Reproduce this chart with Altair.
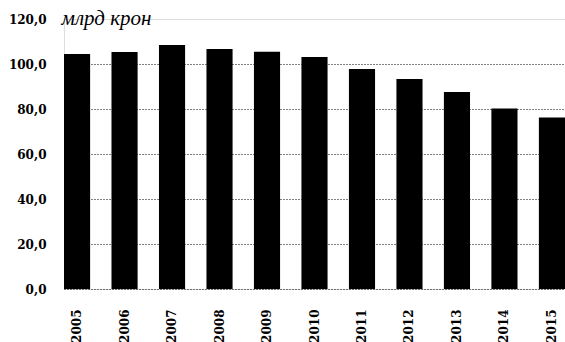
import altair as alt
import pandas as pd

# Annual values, billions of crowns
years = ["2005", "2006", "2007", "2008", "2009", "2010",
         "2011", "2012", "2013", "2014", "2015"]
values = [104.5, 105.3, 108.4, 106.7, 105.4, 103.1,
          97.8, 93.3, 87.6, 80.2, 76.2]
y_ticks = [0, 20, 40, 60, 80, 100, 120]

df = pd.DataFrame({"year": years, "value": values})

serif = "DejaVu Serif"

bars = alt.Chart(df).mark_bar(color="black").encode(
    x=alt.X(
        "year:N",
        sort=years,
        scale=alt.Scale(paddingInner=0.45, paddingOuter=0.0),
        axis=alt.Axis(
            title=None,
            labelAngle=-90,
            labelFont=serif,
            labelFontWeight="bold",
            labelFontSize=12,
            labelColor="black",
            labelPadding=20,
            ticks=False,
            domain=False,
        ),
    ),
    y=alt.Y(
        "value:Q",
        scale=alt.Scale(domain=[0, 120], nice=False),
        axis=alt.Axis(
            values=y_ticks,
            labelExpr="replace(format(datum.value, '.1f'), '.', ',')",
            labelFont=serif,
            labelFontWeight="bold",
            labelFontSize=12,
            labelColor="black",
            labelPadding=18,
            ticks=False,
            domain=False,
            grid=True,
            gridColor="black",
            gridDash=[1, 2],
            gridWidth=1,
            gridOpacity={"condition": {"test": "datum.value === 120", "value": 0}, "value": 1},
            title="млрд крон",
            titleAngle=0,
            titleAlign="left",
            titleBaseline="middle",
            titleX=-3,
            titleY=-1,
            titleFont="Liberation Serif",
            titleFontStyle="italic",
            titleFontWeight="normal",
            titleFontSize=21,
            titleColor="black",
        ),
    ),
)

chart = bars.properties(
    width=501,
    height=270,
    autosize="none",
    padding={"left": 64, "top": 19, "right": 0, "bottom": 53},
).configure_view(stroke=None).configure(background="white")

chart.save("out.html", embed_options={"renderer": "svg", "actions": False})
